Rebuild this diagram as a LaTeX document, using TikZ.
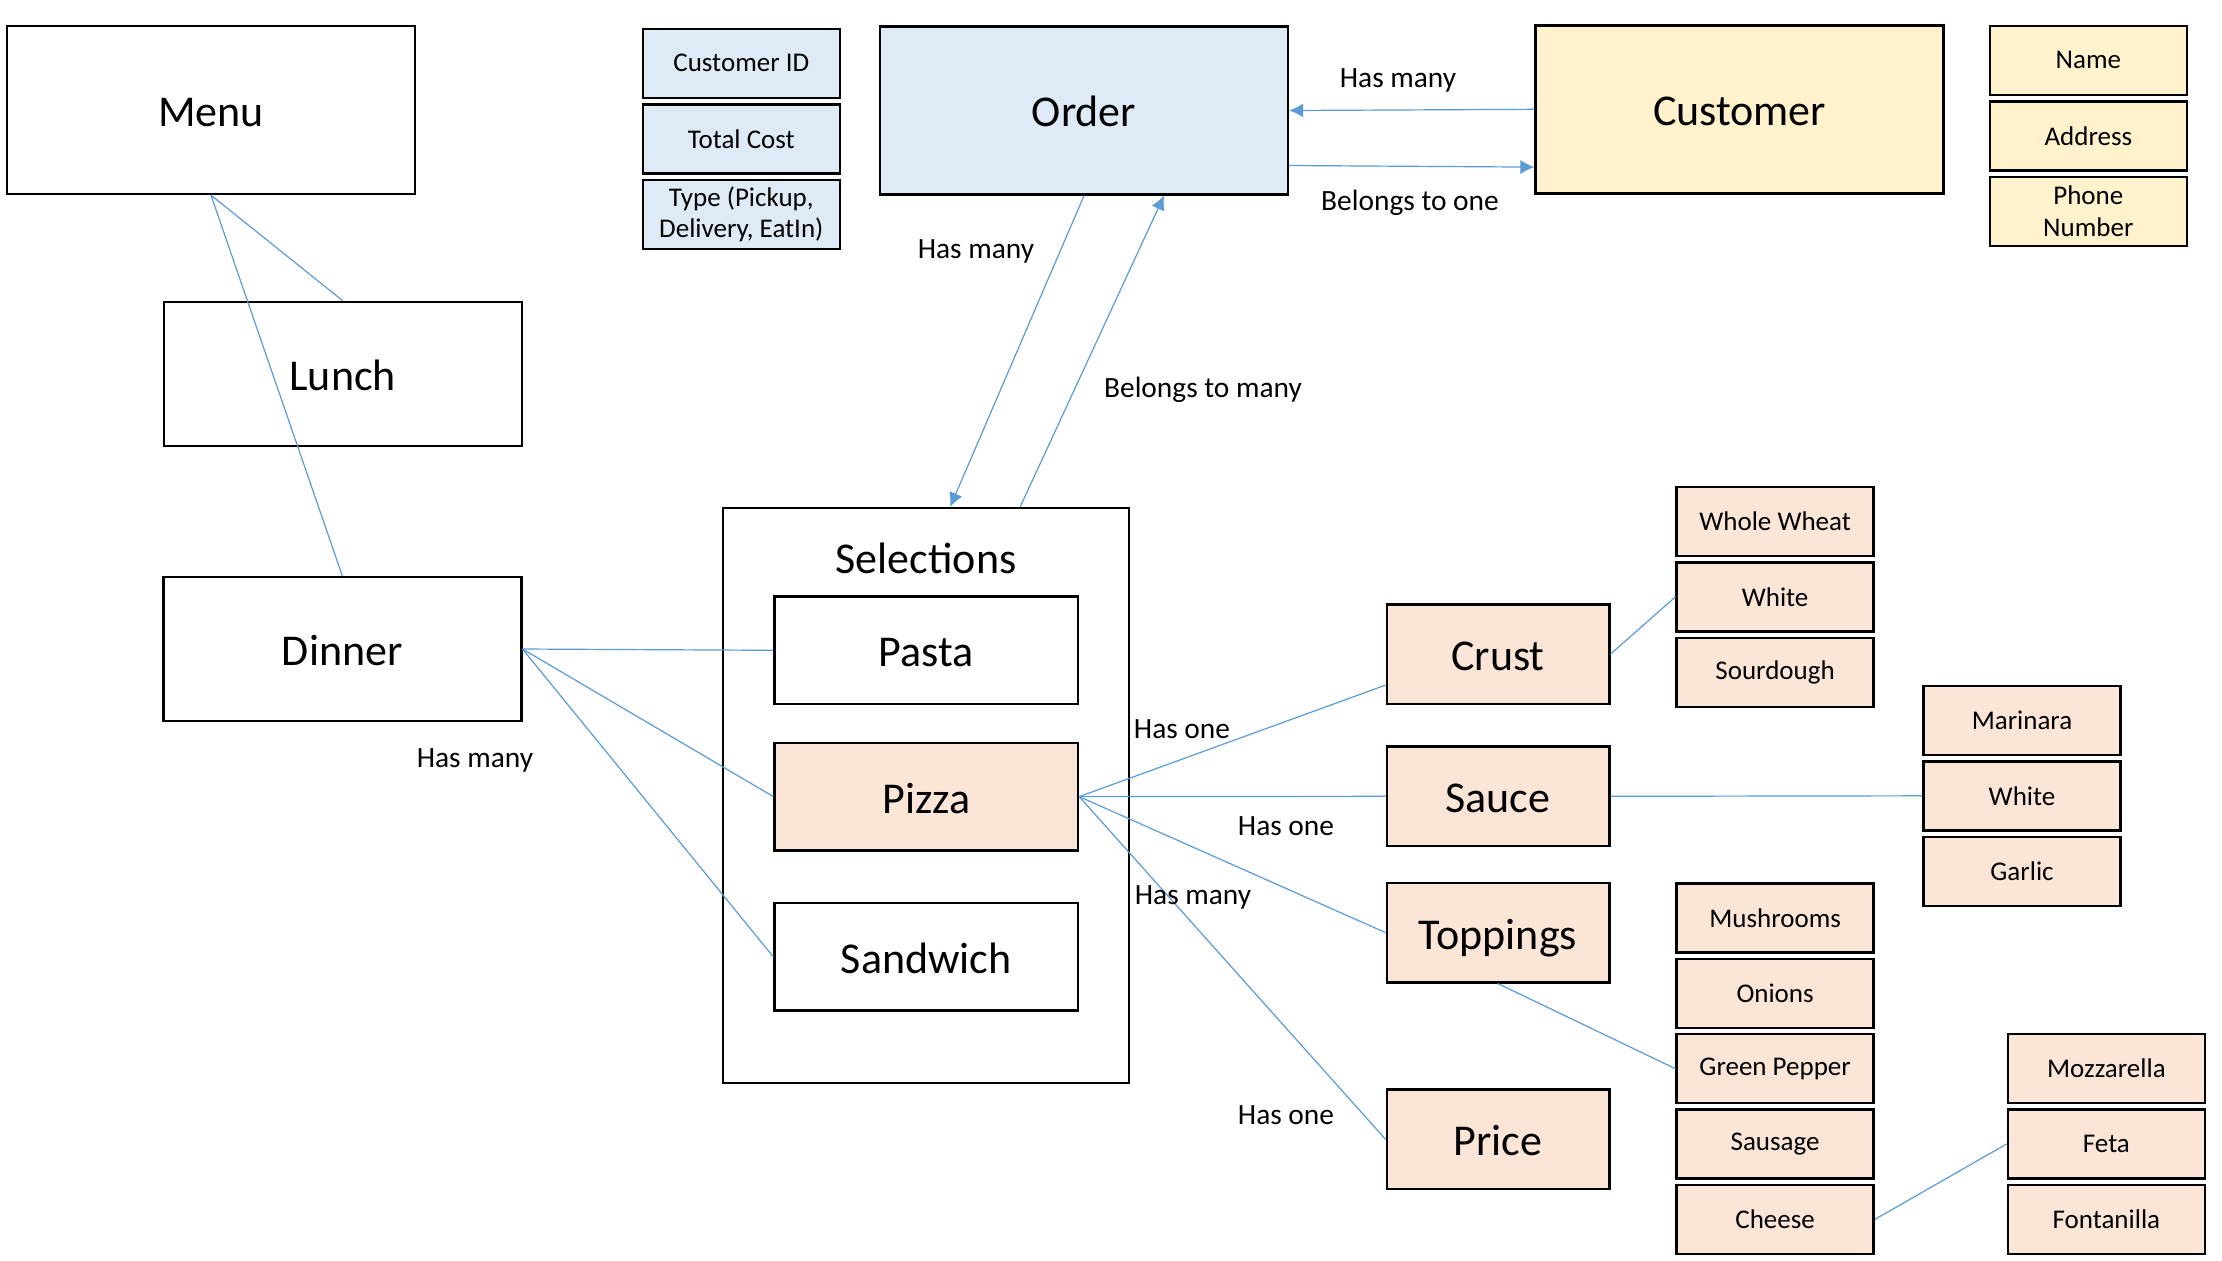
\documentclass[tikz,border=0pt]{standalone}
\usepackage{fontspec}
\setmainfont{Carlito}
\usetikzlibrary{arrows.meta}

\definecolor{orderblue}{HTML}{DEEBF7}
\definecolor{custyellow}{HTML}{FFF2CC}
\definecolor{pizzapeach}{HTML}{FBE5D6}
\definecolor{linkblue}{HTML}{5B9BD5}

\tikzset{
  bigtext/.style={font=\fontsize{22}{26}\selectfont},
  bigbox/.style={draw, line width=1.2pt, bigtext, inner sep=0pt,
    text height=19.2pt, text depth=2.8pt,
    minimum width=204pt, minimum height=84pt},
  mealbox/.style={bigbox, minimum width=179pt, minimum height=72pt},
  dishbox/.style={bigbox, minimum width=151.7pt, minimum height=53.7pt},
  partbox/.style={bigbox, fill=pizzapeach, minimum width=111.3pt, minimum height=49.8pt},
  smallbox/.style={draw, line width=1.2pt, align=center, inner sep=0pt,
    font=\fontsize{13.5}{15.5}\selectfont, minimum width=98.5pt, minimum height=34.5pt},
  lbl/.style={font=\fontsize{14.7}{17}\selectfont, inner sep=0pt},
  link/.style={linkblue, line width=0.6pt},
  arr/.style={link, -{Latex[length=7pt,width=7pt]}}
}

\begin{document}
\begin{tikzpicture}[x=0.5pt,y=-0.5pt]
  \useasboundingbox (0,0) rectangle (2222,1260);

  % menu
  \node[bigbox] (menu) at (211,110) {Menu};
  \node[mealbox] (lunch) at (342.7,373.9) {Lunch};
  \node[mealbox] (dinner) at (342.3,649) {Dinner};
  \draw[link] (menu.south) -- (lunch.north);
  \draw[link] (menu.south) -- (dinner.north);
  \node[lbl] (dinnermany) at (475,760.5) {Has many};

  % order and customer
  \node[bigbox, fill=orderblue] (order) at (1084,110.5) {Order};
  \node[smallbox, fill=orderblue] (cid) at (741.3,63.3) {Customer ID};
  \node[smallbox, fill=orderblue] (cost) at (741.3,139) {Total Cost};
  \node[smallbox, fill=orderblue] (type) at (741.3,214.4) {Type (Pickup,\\Delivery, EatIn)};

  \node[bigbox, fill=custyellow] (cust) at (1739.6,109.3) {Customer};
  \node[smallbox, fill=custyellow] (name) at (2088.3,60.3) {Name};
  \node[smallbox, fill=custyellow] (addr) at (2088.3,135.8) {Address};
  \node[smallbox, fill=custyellow] (phone) at (2088.3,211.4) {Phone\\[0.5pt]Number};

  \draw[arr] (cust.west) -- (order.east);
  \draw[arr] ([yshift=-27.5pt]order.east) -- ([yshift=-28.9pt]cust.west);
  \node[lbl] (custmany) at (1398,80.5) {Has many};
  \node[lbl] (custone) at (1410,203) {Belongs to one};

  % selections
  \node[draw, line width=1.2pt, minimum width=203pt, minimum height=287.5pt] (sel) at (926.2,795.5) {};
  \node[bigtext, inner sep=0pt] (seltitle) at (926,558.5) {Selections};
  \node[dishbox] (pasta) at (926.3,650.3) {Pasta};
  \node[dishbox, fill=pizzapeach] (pizza) at (926.3,796.6) {Pizza};
  \node[dishbox] (sandwich) at (926.3,956.9) {Sandwich};

  \draw[arr] (order.south) -- ([xshift=12pt]sel.north);
  \draw[arr] ([xshift=47pt]sel.north) -- ([xshift=40pt]order.south);
  \node[lbl] (ordermany) at (976,251.5) {Has many};
  \node[lbl] (selmany) at (1203,389.5) {Belongs to many};

  \foreach \d in {pasta,pizza,sandwich}
    \draw[link] (dinner.east) -- (\d.west);

  % pizza parts
  \node[partbox] (crust) at (1498,654.1) {Crust};
  \node[partbox] (sauce) at (1498,796.3) {Sauce};
  \node[partbox] (toppings) at (1498,932.6) {Toppings};
  \node[partbox] (price) at (1498,1139.3) {Price};

  \draw[link] (pizza.east) -- ([yshift=10pt]crust.south west);
  \foreach \p in {sauce,toppings,price}
    \draw[link] (pizza.east) -- (\p.west);
  \node[lbl] (crustone) at (1182,729.5) {Has one};
  \node[lbl] (sauceone) at (1286,826) {Has one};
  \node[lbl] (topmany) at (1193,897.5) {Has many};
  \node[lbl] (priceone) at (1286,1115) {Has one};

  % choices
  \foreach \name/\txt [count=\i from 0] in {wheat/Whole Wheat, cwhite/White, sour/Sourdough}
    \node[smallbox, fill=pizzapeach] (\name) at (1775.1,{521.5+75.35*\i}) {\txt};
  \foreach \name/\txt [count=\i from 0] in {marin/Marinara, swhite/White, garlic/Garlic}
    \node[smallbox, fill=pizzapeach] (\name) at (2022,{720.2+75.6*\i}) {\txt};
  \foreach \name/\txt [count=\i from 0] in {mush/Mushrooms, onion/Onions, pepper/Green Pepper, saus/Sausage, cheese/Cheese}
    \node[smallbox, fill=pizzapeach] (\name) at (1775.1,{918+75.35*\i}) {\txt};
  \foreach \name/\txt [count=\i from 0] in {mozz/Mozzarella, feta/Feta, fonta/Fontanilla}
    \node[smallbox, fill=pizzapeach] (\name) at (2106.4,{1068.4+75.5*\i}) {\txt};

  \draw[link] (crust.east) -- (cwhite.west);
  \draw[link] (sauce.east) -- (swhite.west);
  \draw[link] (toppings.south) -- (pepper.west);
  \draw[link] (cheese.east) -- (feta.west);
\end{tikzpicture}
\end{document}
